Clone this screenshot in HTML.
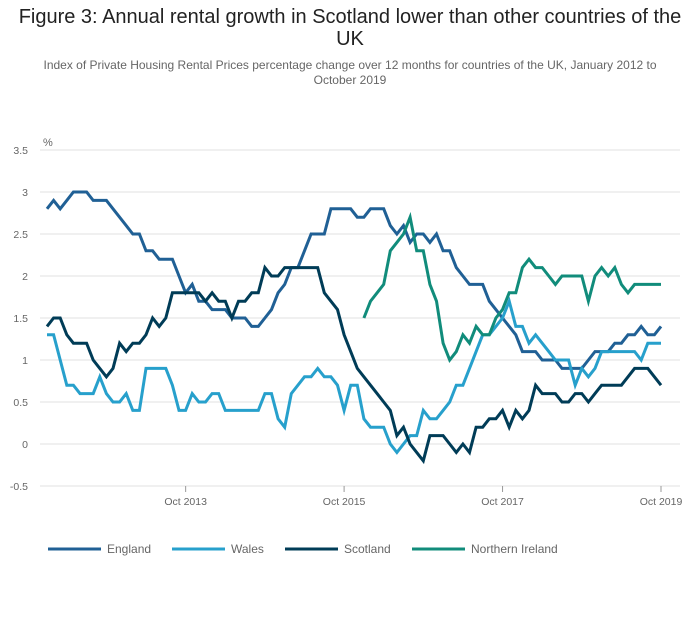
<!DOCTYPE html>
<html><head><meta charset="utf-8"><style>
body{margin:0;width:700px;height:635px;background:#fff;font-family:"Liberation Sans",sans-serif;overflow:hidden}
#title{position:absolute;top:6px;left:0;width:700px;text-align:center;font-size:20px;color:#222;line-height:22px}
#sub{position:absolute;top:58px;left:20px;width:660px;text-align:center;font-size:12px;color:#666;line-height:15px}
</style></head><body>
<div id="title">Figure 3: Annual rental growth in Scotland lower than other countries of the<br>UK</div>
<div id="sub">Index of Private Housing Rental Prices percentage change over 12 months for countries of the UK, January 2012 to<br>October 2019</div>
<svg id="chart" width="700" height="635" style="position:absolute;top:0;left:0"></svg>
<script>
const england=[2.8,2.9,2.8,2.9,3.0,3.0,3.0,2.9,2.9,2.9,2.8,2.7,2.6,2.5,2.5,2.3,2.3,2.2,2.2,2.2,2.0,1.8,1.9,1.7,1.7,1.6,1.6,1.6,1.5,1.5,1.5,1.4,1.4,1.5,1.6,1.8,1.9,2.1,2.1,2.3,2.5,2.5,2.5,2.8,2.8,2.8,2.8,2.7,2.7,2.8,2.8,2.8,2.6,2.5,2.6,2.4,2.5,2.5,2.4,2.5,2.3,2.3,2.1,2.0,1.9,1.9,1.9,1.7,1.6,1.5,1.4,1.3,1.1,1.1,1.1,1.0,1.0,1.0,0.9,0.9,0.9,0.9,1.0,1.1,1.1,1.1,1.2,1.2,1.3,1.3,1.4,1.3,1.3,1.4];
const wales=[1.3,1.3,1.0,0.7,0.7,0.6,0.6,0.6,0.8,0.6,0.5,0.5,0.6,0.4,0.4,0.9,0.9,0.9,0.9,0.7,0.4,0.4,0.6,0.5,0.5,0.6,0.6,0.4,0.4,0.4,0.4,0.4,0.4,0.6,0.6,0.3,0.2,0.6,0.7,0.8,0.8,0.9,0.8,0.8,0.7,0.4,0.7,0.7,0.3,0.2,0.2,0.2,0.0,-0.1,0.0,0.1,0.1,0.4,0.3,0.3,0.4,0.5,0.7,0.7,0.9,1.1,1.3,1.3,1.4,1.5,1.7,1.4,1.4,1.2,1.3,1.2,1.1,1.0,1.0,1.0,0.7,0.9,0.8,0.9,1.1,1.1,1.1,1.1,1.1,1.1,1.0,1.2,1.2,1.2];
const scotland=[1.4,1.5,1.5,1.3,1.2,1.2,1.2,1.0,0.9,0.8,0.9,1.2,1.1,1.2,1.2,1.3,1.5,1.4,1.5,1.8,1.8,1.8,1.8,1.8,1.7,1.8,1.7,1.7,1.5,1.7,1.7,1.8,1.8,2.1,2.0,2.0,2.1,2.1,2.1,2.1,2.1,2.1,1.8,1.7,1.6,1.3,1.1,0.9,0.8,0.7,0.6,0.5,0.4,0.1,0.2,0.0,-0.1,-0.2,0.1,0.1,0.1,0.0,-0.1,0.0,-0.1,0.2,0.2,0.3,0.3,0.4,0.2,0.4,0.3,0.4,0.7,0.6,0.6,0.6,0.5,0.5,0.6,0.6,0.5,0.6,0.7,0.7,0.7,0.7,0.8,0.9,0.9,0.9,0.8,0.7];
const nireland=[null,null,null,null,null,null,null,null,null,null,null,null,null,null,null,null,null,null,null,null,null,null,null,null,null,null,null,null,null,null,null,null,null,null,null,null,null,null,null,null,null,null,null,null,null,null,null,null,1.5,1.7,1.8,1.9,2.3,2.4,2.5,2.7,2.3,2.3,1.9,1.7,1.2,1.0,1.1,1.3,1.2,1.4,1.3,1.3,1.5,1.6,1.8,1.8,2.1,2.2,2.1,2.1,2.0,1.9,2.0,2.0,2.0,2.0,1.7,2.0,2.1,2.0,2.1,1.9,1.8,1.9,1.9,1.9,1.9,1.9];
const yTicks=[3.5,3,2.5,2,1.5,1,0.5,0,-0.5];
const xTickIdx=[21,45,69,93];
const xTickLabels=["Oct 2013","Oct 2015","Oct 2017","Oct 2019"];
const seriesNames=["England","Wales","Scotland","Northern Ireland"];
const colors=["#206095","#27a0cc","#003c57","#118c7b"];
const svg=document.getElementById('chart');const NS='http://www.w3.org/2000/svg';
const X0=47,X1=661,Y0=150,Y1=486;
const x=i=>X0+(X1-X0)*i/93;
const y=v=>Y0+(3.5-v)*(Y1-Y0)/4;
function mk(t,a){const e=document.createElementNS(NS,t);for(const k in a)e.setAttribute(k,a[k]);svg.appendChild(e);return e;}
yTicks.forEach(v=>{
 const l=mk('line',{x1:40,x2:680,y1:y(v),y2:y(v),stroke:'#e0e0e0','stroke-width':1});
 
 
 const t=mk('text',{x:28,y:y(v)+4,'font-size':10.5,fill:'#666','text-anchor':'end'});t.textContent=v;
 
 
});
const pt=mk('text',{x:43,y:146,'font-size':11,fill:'#666'});pt.textContent='%';


xTickIdx.forEach((i,k)=>{
 const l=mk('line',{x1:x(i),x2:x(i),y1:486,y2:492,stroke:'#999'});
 
 
 const t=mk('text',{x:x(i),y:505,'font-size':10.5,fill:'#666','text-anchor':'middle'});t.textContent=xTickLabels[k];
 
 
});
[england,wales,scotland,nireland].forEach((s,k)=>{
 let d='',pen=false;
 s.forEach((v,i)=>{if(v==null){pen=false;return;}d+=(pen?'L':'M')+x(i).toFixed(1)+','+y(v).toFixed(1);pen=true;});
 const p=mk('path',{d:d,fill:'none',stroke:colors[k],'stroke-width':3,'stroke-linejoin':'miter'});
 
 
});
const lx=[48,172,285,412];
seriesNames.forEach((n,k)=>{
 const l=mk('line',{x1:lx[k],x2:lx[k]+53,y1:549,y2:549,stroke:colors[k],'stroke-width':3});
 
 
 const t=mk('text',{x:lx[k]+59,y:553,'font-size':12,fill:'#666'});t.textContent=n;
 
 
});
</script>
</body></html>
